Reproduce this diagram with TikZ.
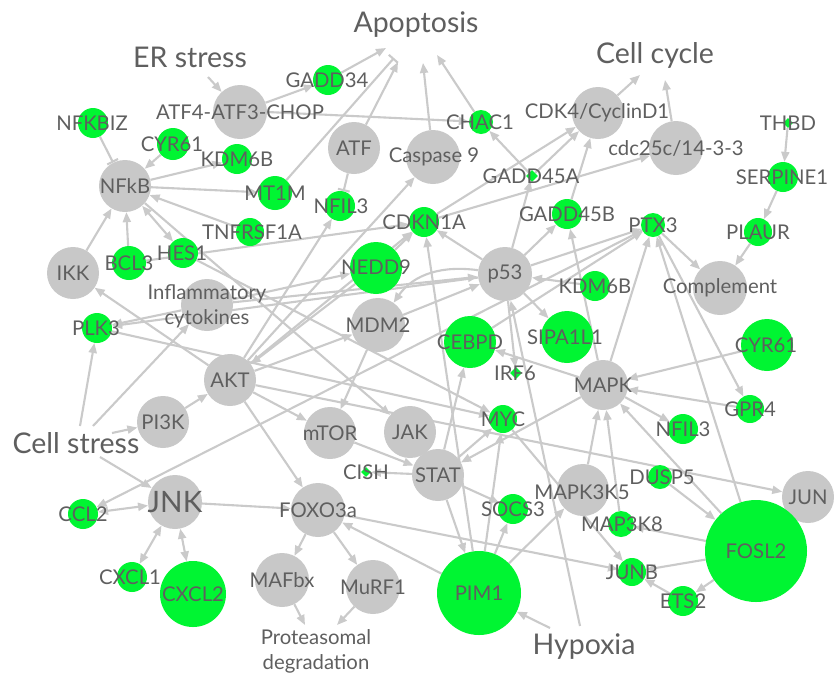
\documentclass[tikz,border=0pt]{standalone}
\usepackage{fontspec}
\setmainfont{Lato}
\usetikzlibrary{arrows.meta,shapes.geometric,backgrounds}
\definecolor{eg}{RGB}{202,202,202}
\definecolor{ngray}{RGB}{200,200,200}
\definecolor{ngreen}{RGB}{0,245,50}
\definecolor{txt}{RGB}{95,95,95}
\begin{document}
\begin{tikzpicture}[x=1pt,y=-1pt,
  gn/.style={circle,fill=ngray,inner sep=0,minimum size=#1},
  gr/.style={circle,fill=ngreen,inner sep=0,minimum size=#1},
  dia/.style={diamond,fill=ngreen,inner sep=0,minimum size=12pt},
  lab/.style={text=txt,font=\fontsize{20.3}{25}\selectfont,inner sep=0,align=center},
  big/.style={text=txt,font=\fontsize{28.5}{31}\selectfont,inner sep=0},
  jnkf/.style={text=txt,font=\fontsize{29.5}{31}\selectfont,inner sep=0},
  e/.style={draw=eg,line width=2.1pt,-{Triangle[length=10pt,width=8pt]}},
  ee/.style={draw=eg,line width=2.1pt,{Triangle[length=10pt,width=8pt]}-{Triangle[length=10pt,width=8pt]}},
  inh/.style={draw=eg,line width=2.1pt,-{Bar[width=12pt]}}]
\useasboundingbox (0,0) rectangle (834,673);
% gray nodes
\node[gn=54pt] (atfchop) at (240,112) {};
\node[gn=52pt] (atf) at (354,148) {};
\node[gn=54pt] (casp9) at (433,157) {};
\node[gn=52pt] (cdk4) at (598,113) {};
\node[gn=54pt] (cdc25) at (676,148) {};
\node[gn=52pt] (nfkb) at (125,186) {};
\node[gn=52pt] (ikk) at (73,273) {};
\node[gn=52pt] (infl) at (207,305) {};
\node[gn=52pt] (akt) at (230,380) {};
\node[gn=52pt] (pi3k) at (163,422) {};
\node[gn=54pt] (mdm2) at (378,325) {};
\node[gn=52pt] (mtor) at (330,433) {};
\node[gn=52pt] (jak) at (410,432) {};
\node[gn=52pt] (stat) at (438,475) {};
\node[gn=54pt] (p53) at (505,274) {};
\node[gn=50pt] (mapk) at (603,385) {};
\node[gn=54pt] (compl) at (720,288) {};
\node[gn=54pt] (jnk) at (175,502) {};
\node[gn=54pt] (foxo) at (318,510) {};
\node[gn=54pt] (mafbx) at (282,580) {};
\node[gn=54pt] (murf) at (373,587) {};
\node[gn=52pt] (map3k5) at (583,490) {};
\node[gn=52pt] (jun) at (808,497) {};
% green nodes
\node[gr=30pt] (gadd34) at (328,80) {};
\node[gr=30pt] (nfkbiz) at (93,123) {};
\node[gr=32pt] (cyr61a) at (173,144) {};
\node[gr=30pt] (kdm6ba) at (237,159) {};
\node[gr=34pt] (mt1m) at (275,193) {};
\node[gr=30pt] (nfil3a) at (340,206) {};
\node[gr=28pt] (tnfrsf) at (250,232) {};
\node[gr=34pt] (bcl3) at (129,263) {};
\node[gr=30pt] (hes1) at (183,253) {};
\node[gr=30pt] (plk3) at (97,328) {};
\node[gr=52pt] (nedd9) at (376,268) {};
\node[gr=24pt] (chac1) at (481,122) {};
\node[dia] (gadd45a) at (532,176) {};
\node[gr=30pt] (cdkn1a) at (424,222) {};
\node[gr=30pt] (gadd45b) at (567,214) {};
\node[gr=24pt] (ptx3) at (653,225) {};
\node[dia,minimum size=10pt] (thbd) at (788,123) {};
\node[gr=30pt] (serpine1) at (783,177) {};
\node[gr=28pt] (plaur) at (758,232) {};
\node[gr=30pt] (kdm6bb) at (595,286) {};
\node[gr=52pt] (sipa1l1) at (567,337) {};
\node[gr=52pt] (cebpd) at (470,342) {};
\node[dia] (irf6) at (516,373) {};
\node[gr=28pt] (myc) at (503,419) {};
\node[gr=52pt] (cyr61b) at (767,345) {};
\node[gr=28pt] (gpr4) at (750,409) {};
\node[gr=30pt] (nfil3b) at (683,429) {};
\node[gr=30pt] (ccl2) at (83,514) {};
\node[gr=30pt] (cxcl1) at (132,577) {};
\node[gr=66pt] (cxcl2) at (193,594) {};
\node[dia,minimum size=10pt] (cish) at (366,472) {};
\node[gr=30pt] (socs3) at (513,509) {};
\node[gr=24pt] (dusp5) at (660,477) {};
\node[gr=26pt] (map3k8) at (621,524) {};
\node[gr=28pt] (junb) at (632,572) {};
\node[gr=30pt] (ets2) at (683,601) {};
\node[gr=102pt] (fosl2) at (756,551) {};
\node[gr=84pt] (pim1) at (479,593) {};
% text-only nodes
\node[big] (apop) at (416,25) {Apoptosis};
\node[big] (erstress) at (190,57) {ER stress};
\node[big] (cellcycle) at (655,55) {Cell cycle};
\node[big] (cellstress) at (76,443) {Cell stress};
\node[big] (hypoxia) at (584,647) {Hypoxia};
\node[lab] (prot) at (316,651) {Proteasomal\\degradation};
\coordinate (ap1) at (386,48);
\coordinate (ap2) at (398,62);
\coordinate (ap3) at (423,63);
\coordinate (ap4) at (437,55);
\coordinate (er1) at (208,77);
\coordinate (cc1) at (640,75);
\coordinate (cc2) at (665,80);
\coordinate (cs1) at (80,426);
\coordinate (cs2) at (93,426);
\coordinate (cs3) at (112,433);
\coordinate (cs4) at (100,457);
\coordinate (pr1) at (305,625);
\coordinate (pr2) at (337,625);
\coordinate (hy1) at (550,628);
\coordinate (hy2) at (580,626);
\coordinate (mtbar) at (394,58);
\begin{pgfonlayer}{background}
\fill[white] (0,0) rectangle (834,673);
\draw[e] (er1) -- (atfchop);
\draw[e] (atfchop) -- (gadd34);
\draw[e] (gadd34) -- (ap1);
\draw[e] (atfchop.east) -- (chac1);
\draw[e] (chac1) -- (ap4);
\draw[e] (casp9) -- (ap3);
\draw[e] (atf) -- (ap2);
\draw[inh] (mt1m) -- (mtbar);
\draw[inh] (atf) -- (nfil3a);
\draw[inh] (nfkbiz) -- (nfkb);
\draw[e] (cyr61a) -- (nfkb);
\draw[e] (nfkb) -- (kdm6ba);
\draw[e] (nfkb) -- (mt1m);
\draw[e] (tnfrsf) -- (nfkb);
\draw[ee] (hes1) -- (nfkb);
\draw[e] (bcl3) -- (nfkb);
\draw[e] (ikk) -- (nfkb);
\draw[e] (nfkb) -- (jak);
\draw[e] (hes1) -- (myc);
\draw[e] (bcl3) -- (cdkn1a);
\draw[e] (akt) -- (ikk);
\draw[e] (cs1) -- (plk3);
\draw[e] (cs2) -- (infl);
\draw[e] (cs3) -- (pi3k);
\draw[e] (cs4) -- (jnk);
\draw[e] (pi3k) -- (akt);
\draw[e] (akt) -- (mtor);
\draw[e] (akt) -- (foxo);
\draw[e] (akt) -- (mdm2);
\draw[e] (akt) -- (nfil3a);
\draw[e] (akt) -- (casp9);
\draw[e] (akt) -- (cdkn1a);
\draw[e] (akt) -- (jun);
\draw[e] (nedd9) -- (akt);
\draw[e] (nedd9) -- (cdkn1a);
\draw[e] (infl) -- (nedd9);
\draw[e] (infl) -- (p53);
\draw[e] (infl) -- (plk3);
\draw[e] (p53) -- (plk3);
\draw[e] (plk3) -- (myc);
\draw[e] (p53) to[out=172,in=55] (mdm2);
\draw[e] (mdm2) -- (p53);
\draw[e] (mdm2) -- (mtor);
\draw[e] (mtor) -- (stat);
\draw[e] (stat) -- (cish);
\draw[e] (stat) -- (myc);
\draw[e] (stat) -- (socs3);
\draw[e] (stat) -- (cebpd);
\draw[e] (stat) -- (pim1);
\draw[e] (mapk) -- (stat);
\draw[e] (mapk) -- (cebpd);
\draw[e] (pim1) -- (cdkn1a);
\draw[e] (pim1) -- (myc);
\draw[e] (pim1) -- (socs3);
\draw[e] (pim1) -- (map3k5);
\draw[e] (pim1) -- (foxo);
\draw[e] (myc) -- (junb);
\draw[e] (foxo) -- (junb);
\draw[e] (jnk) -- (foxo);
\draw[ee] (jnk) -- (ccl2);
\draw[ee] (jnk) -- (cxcl1);
\draw[ee] (jnk) -- (cxcl2);
\draw[e] (ptx3) -- (ccl2);
\draw[e] (foxo) -- (mafbx);
\draw[e] (foxo) -- (murf);
\draw[e] (mafbx) -- (pr1);
\draw[e] (murf) -- (pr2);
\draw[e] (cdk4) -- (cc1);
\draw[e] (cdc25) -- (cc2);
\draw[e] (cdkn1a) -- (cdk4);
\draw[e] (cdkn1a) -- (cdc25);
\draw[e] (gadd45a) -- (cdk4);
\draw[e] (gadd45a) -- (chac1);
\draw[e] (p53) -- (gadd45a);
\draw[e] (p53) -- (ptx3);
\draw[e] (cebpd) -- (ptx3);
\draw[e] (p53) -- (irf6);
\draw[e] (hy2) -- (p53);
\draw[e] (thbd) -- (serpine1);
\draw[e] (serpine1) -- (plaur);
\draw[e] (plaur) -- (compl);
\draw[e] (ptx3) -- (compl);
\draw[e] (hy1) -- (pim1);
\draw[e] (cyr61b) -- (mapk);
\draw[e] (gpr4) -- (mapk);
\draw[e] (mapk) -- (nfil3b);
\draw[e] (mapk) -- (ptx3);
\draw[e] (mapk) -- (gadd45b);
\draw[e] (ptx3) -- (gpr4);
\draw[e] (fosl2) -- (ptx3);
\draw[e] (fosl2) -- (mapk);
\draw[e] (fosl2) -- (junb);
\draw[e] (fosl2) -- (ets2);
\draw[e] (fosl2) -- (map3k8);
\draw[e] (ets2) -- (junb);
\draw[e] (dusp5) -- (fosl2);
\draw[e] (p53) -- (cdkn1a);
\draw[e] (p53) -- (gadd45b);
\draw[e] (p53) -- (sipa1l1);
\draw[e] (kdm6bb) -- (p53);
\draw[e] (gadd45b) -- (cdk4);
\draw[e] (map3k5) -- (mapk);
\draw[e] (map3k8) -- (mapk);
\end{pgfonlayer}
% labels
\node[lab] at (240,112) {ATF4-ATF3-CHOP};
\node[lab] at (354,148) {ATF};
\node[lab] at (434,157) {Caspase 9};
\node[lab] at (597,113) {CDK4/CyclinD1};
\node[lab] at (676,148) {cdc25c/14-3-3};
\node[lab] at (125,186) {NFkB};
\node[lab] at (73,273) {IKK};
\node[lab] at (207,306) {Inflammatory\\cytokines};
\node[lab] at (230,380) {AKT};
\node[lab] at (163,422) {PI3K};
\node[lab] at (378,325) {MDM2};
\node[lab] at (330,433) {mTOR};
\node[lab] at (410,432) {JAK};
\node[lab] at (438,475) {STAT};
\node[lab] at (505,274) {p53};
\node[lab] at (603,385) {MAPK};
\node[lab] at (720,288) {Complement};
\node[jnkf] at (175,502) {JNK};
\node[lab] at (318,510) {FOXO3a};
\node[lab] at (282,580) {MAFbx};
\node[lab] at (373,587) {MuRF1};
\node[lab] at (582,492) {MAPK3K5};
\node[lab] at (808,497) {JUN};
\node[lab] at (327,80) {GADD34};
\node[lab] at (92,123) {NFKBIZ};
\node[lab] at (172,144) {CYR61};
\node[lab] at (237,159) {KDM6B};
\node[lab] at (275,193) {MT1M};
\node[lab] at (341,206) {NFIL3};
\node[lab] at (252,232) {TNFRSF1A};
\node[lab] at (129,263) {BCL3};
\node[lab] at (182,253) {HES1};
\node[lab] at (96,328) {PLK3};
\node[lab] at (376,267) {NEDD9};
\node[lab] at (480,122) {CHAC1};
\node[lab] at (531,176) {GADD45A};
\node[lab] at (424,222) {CDKN1A};
\node[lab] at (567,214) {GADD45B};
\node[lab] at (653,225) {PTX3};
\node[lab] at (788,123) {THBD};
\node[lab] at (782,177) {SERPINE1};
\node[lab] at (758,232) {PLAUR};
\node[lab] at (595,286) {KDM6B};
\node[lab] at (565,337) {SIPA1L1};
\node[lab] at (470,342) {CEBPD};
\node[lab] at (515,373) {IRF6};
\node[lab] at (503,419) {MYC};
\node[lab] at (766,345) {CYR61};
\node[lab] at (750,409) {GPR4};
\node[lab] at (683,429) {NFIL3};
\node[lab] at (83,514) {CCL2};
\node[lab] at (130,577) {CXCL1};
\node[lab] at (193,594) {CXCL2};
\node[lab] at (366,472) {CISH};
\node[lab] at (513,509) {SOCS3};
\node[lab] at (662,477) {DUSP5};
\node[lab] at (622,524) {MAP3K8};
\node[lab] at (632,572) {JUNB};
\node[lab] at (683,601) {ETS2};
\node[lab] at (756,551) {FOSL2};
\node[lab] at (479,593) {PIM1};
\end{tikzpicture}
\end{document}
